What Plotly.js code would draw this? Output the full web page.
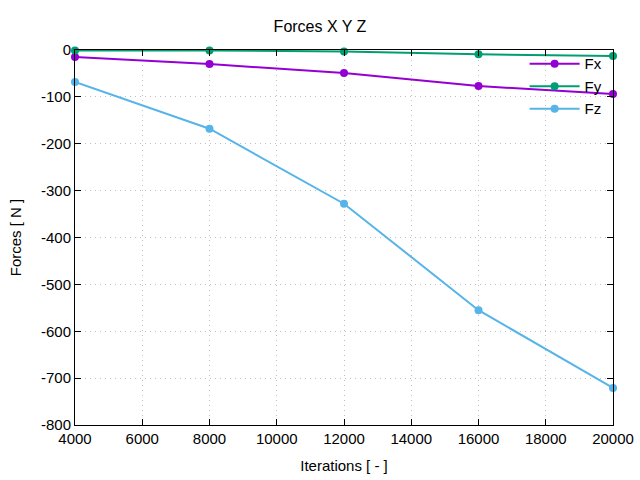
<!DOCTYPE html>
<html>
<head>
<meta charset="utf-8">
<script src="https://cdn.plot.ly/plotly-3.0.1.min.js"></script>
<style>html,body{margin:0;padding:0;background:#fff;}#chart{width:640px;height:480px;}</style>
</head>
<body>
<div id="chart"></div>
<script>
const iterations = [4000, 8000, 12000, 16000, 20000];
const fx = [-15, -30, -49, -77, -94];
const fy = [-1, -1, -3, -9, -13];
const fz = [-68, -168, -328, -555, -721];
const seriesNames = ["Fx", "Fy", "Fz"];
const seriesColors = ["#9400d3", "#009e73", "#56b4e9"];
const xTicks = [4000, 6000, 8000, 10000, 12000, 14000, 16000, 18000, 20000];
const yTicks = [0, -100, -200, -300, -400, -500, -600, -700, -800];

const values = [fx, fy, fz];
const traces = values.map((v, i) => ({
  x: iterations, y: v, name: seriesNames[i], type: 'scatter', mode: 'lines+markers',
  line: {color: seriesColors[i], width: 2},
  marker: {color: seriesColors[i], size: 8},
  cliponaxis: false
}));

const font = {family: 'Liberation Sans, Arial, sans-serif', size: 15, color: '#000'};
const layout = {
  width: 640, height: 480,
  margin: {l: 75, r: 27, t: 50, b: 55},
  paper_bgcolor: '#fff', plot_bgcolor: '#fff',
  font: font,
  title: {text: 'Forces X Y Z', x: 0.5, xanchor: 'center', y: 0.945, yanchor: 'middle', font: {size: 16, family: font.family}},
  xaxis: {
    range: [4000, 20000], tickvals: xTicks, ticktext: xTicks.map(String),
    showgrid: true, gridcolor: '#c0c0c0', griddash: '1px,4px', gridwidth: 1,
    zeroline: false, showline: true, linecolor: '#000', linewidth: 1, mirror: 'ticks',
    ticks: 'inside', ticklen: 6, tickcolor: '#000',
    title: {text: 'Iterations [ - ]', standoff: 14, font: font}
  },
  yaxis: {
    range: [-800, 0], tickvals: yTicks, ticktext: yTicks.map(String),
    showgrid: true, gridcolor: '#c0c0c0', griddash: '1px,4px', gridwidth: 1,
    zeroline: false, showline: true, linecolor: '#000', linewidth: 1, mirror: 'ticks',
    ticks: 'inside', ticklen: 6, tickcolor: '#000',
    title: {text: 'Forces [ N ]', standoff: 15, font: font}
  },
  legend: {x: 0.99, xanchor: 'right', y: 1.007, yanchor: 'top', bgcolor: 'rgba(0,0,0,0)',
    font: {size: 15, family: font.family}, tracegroupgap: 0, itemwidth: 50},
  showlegend: true
};
Plotly.newPlot('chart', traces, layout, {displayModeBar: false, staticPlot: true});
</script>
</body>
</html>
